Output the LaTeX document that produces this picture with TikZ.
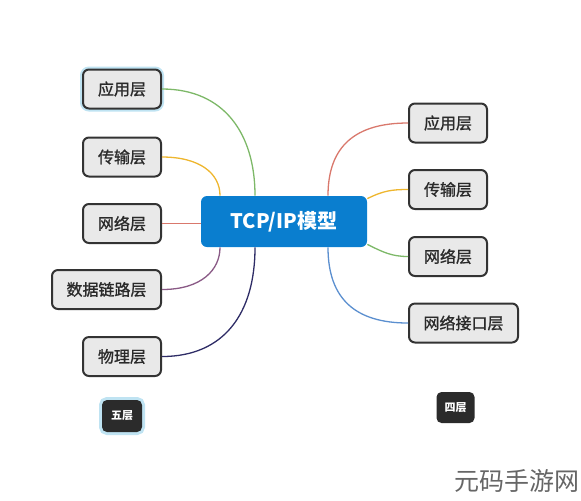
\documentclass[tikz,border=0pt]{standalone}
\usepackage{fontspec}
\setmainfont{Noto Sans CJK SC}
\newfontfamily\layerfont[FakeBold=1.2]{Noto Sans CJK SC}
\usetikzlibrary{calc}
\definecolor{boxfill}{HTML}{E9E9E9}
\definecolor{boxline}{HTML}{333333}
\definecolor{ink}{HTML}{2A2A2A}
\definecolor{rootblue}{HTML}{0A7ECF}
\definecolor{tagfill}{HTML}{2B2B2B}
\definecolor{picked}{HTML}{BFE3F2}
\definecolor{cgreen}{HTML}{7DB868}
\definecolor{cyellow}{HTML}{EEB62E}
\definecolor{cred}{HTML}{D9786C}
\definecolor{cpurple}{HTML}{8A5A86}
\definecolor{cnavy}{HTML}{2E2C66}
\definecolor{cblue}{HTML}{5B8FCF}
\tikzset{
layer/.style={draw=boxline, fill=boxfill, line width=1pt, rounded corners=3pt,
  minimum width=39pt, minimum height=19.5pt, inner sep=1pt, text=ink,
  font=\fontsize{8}{10}\layerfont},
root/.style={fill=rootblue, rounded corners=3pt, minimum width=83pt,
  minimum height=25.5pt, text=white, font=\fontsize{10}{12}\selectfont\bfseries},
tag/.style={fill=tagfill, rounded corners=2.5pt, minimum width=19pt,
  minimum height=15.5pt, inner sep=1pt, text=white,
  font=\fontsize{5.5}{6}\selectfont\bfseries},
picked/.style={preaction={draw=picked, line width=3pt}},
link/.style={line width=0.65pt},
}

\begin{document}
\begin{tikzpicture}[x=0.5pt,y=-0.5pt]
  \useasboundingbox (0,0) rectangle (581,500);

  % the model in the middle
  \node[root] (model) at (284,221.5) {TCP/IP模型};

  % five layers on the left
  \node[layer,picked,anchor=east] (app5) at (162,89) {应用层};
  \node[layer,anchor=east] (trans5) at (162,157) {传输层};
  \node[layer,anchor=east] (net5) at (162,223.5) {网络层};
  \node[layer,anchor=east,minimum width=54.5pt] (link5) at (162,289.5) {数据链路层};
  \node[layer,anchor=east] (phys5) at (162,356.5) {物理层};
  \node[tag,picked,minimum width=20pt,minimum height=16pt] (five) at (122,416) {五层};

  % four layers on the right
  \node[layer,anchor=west] (app4) at (408,123) {应用层};
  \node[layer,anchor=west] (trans4) at (408,189.5) {传输层};
  \node[layer,anchor=west] (net4) at (408,256.5) {网络层};
  \node[layer,anchor=west,minimum width=54.5pt] (iface4) at (408,323) {网络接口层};
  \node[tag] (four) at (455.5,407.5) {四层};

  % left branches
  \draw[link,cgreen] (app5.east) .. controls +(62,0) and +(0,-62) .. ($(model.north)+(-29,0)$);
  \draw[link,cyellow] (trans5.east) .. controls +(38,0) and +(0,-22) .. ($(model.north)+(-64,0)$);
  \draw[link,cred] (net5.east) -- (net5.east -| model.west);
  \draw[link,cpurple] (link5.east) .. controls +(40,0) and +(0,22) .. ($(model.south)+(-64,0)$);
  \draw[link,cnavy] (phys5.east) .. controls +(62,0) and +(0,66) .. ($(model.south)+(-29,0)$);

  % right branches
  \draw[link,cred] ($(model.north)+(44,0)$) .. controls +(0,-50) and +(-52,0) .. (app4.west);
  \draw[link,cyellow] ($(model.north east)+(0,3)$) .. controls +(16,-8) and +(-16,0) .. (trans4.west);
  \draw[link,cgreen] ($(model.south east)+(0,-3)$) .. controls +(16,8) and +(-16,0) .. (net4.west);
  \draw[link,cblue] ($(model.south)+(44,0)$) .. controls +(0,52) and +(-52,0) .. (iface4.west);

  % site mark
  \node[text=black!60, font=\fontsize{12.5}{14}\selectfont] (mark) at (517,481) {元码手游网};
\end{tikzpicture}
\end{document}
